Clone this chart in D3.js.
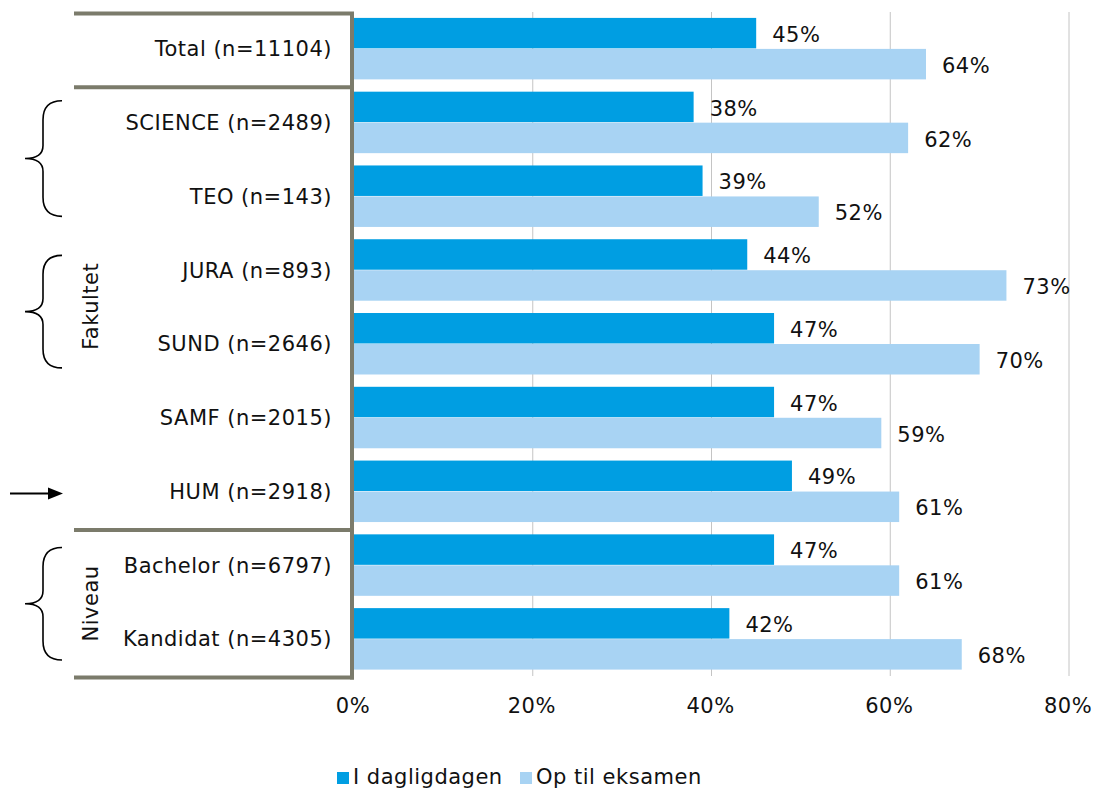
<!DOCTYPE html>
<html>
<head>
    <meta charset="utf-8">
    <script src="https://d3js.org/d3.v7.min.js"></script>
    <style>
        body { margin: 0; background: #fff; }
        text { font-family: "DejaVu Sans", Verdana, sans-serif; fill: #111; letter-spacing: 0.5px; }
    </style>
</head>
<body>
<div id="chart"></div>
<script>
    // data
    var categories = ["Total (n=11104)", "SCIENCE (n=2489)", "TEO (n=143)", "JURA (n=893)", "SUND (n=2646)",
                      "SAMF (n=2015)", "HUM (n=2918)", "Bachelor (n=6797)", "Kandidat (n=4305)"];
    var seriesNames = ["I dagligdagen", "Op til eksamen"];
    var dagligdagen = [45, 38, 39, 44, 47, 47, 49, 47, 42];
    var eksamen = [64, 62, 52, 73, 70, 59, 61, 61, 68];
    var xTicks = [0, 20, 40, 60, 80];

    var colors = ["#009ee2", "#a8d3f3"];
    var fontSize = 21;

    var W = 1096, H = 788;
    var svg = d3.select("#chart").append("svg")
        .attr("width", W).attr("height", H);

    const x = d3.scaleLinear().domain([0, 80]).range([354, 1069]);
    const y = d3.scaleBand().domain(categories).range([12, 676])
        .paddingInner(0.16).paddingOuter(0.08);
    const ySub = d3.scaleBand().domain(seriesNames).range([0, y.bandwidth()]);
    var step = y.step();
    function bandStart(i) { return 12 + i * step; }

    // gridlines
    svg.append("g")
        .selectAll("line")
        .data(xTicks.slice(1))
        .enter().append("line")
        .attr("x1", d => x(d)).attr("x2", d => x(d))
        .attr("y1", 12).attr("y2", 676)
        .attr("stroke", "#c4c4c4").attr("stroke-width", 1);

    // bars
    var rows = categories.map(function(c, i) {
        return { cat: c, values: [
            { key: seriesNames[0], value: dagligdagen[i] },
            { key: seriesNames[1], value: eksamen[i] }
        ] };
    });

    var groups = svg.append("g").selectAll("g")
        .data(rows).enter().append("g")
        .attr("transform", d => "translate(0," + y(d.cat) + ")");

    groups.selectAll("rect")
        .data(d => d.values).enter().append("rect")
        .attr("x", x(0))
        .attr("y", d => ySub(d.key))
        .attr("width", d => x(d.value) - x(0))
        .attr("height", ySub.bandwidth() - 0.5)
        .attr("fill", (d, i) => colors[i]);

    groups.selectAll("text.val")
        .data(d => d.values).enter().append("text")
        .attr("class", "val")
        .attr("x", d => x(d.value) + 16)
        .attr("y", d => ySub(d.key) + ySub.bandwidth() / 2 + 1)
        .attr("dy", "0.35em")
        .style("font-size", fontSize + "px")
        .text(d => d.value + "%");

    // category labels
    svg.append("g").selectAll("text")
        .data(categories).enter().append("text")
        .attr("x", 332)
        .attr("y", d => y(d) + y.bandwidth() / 2)
        .attr("dy", "0.35em")
        .attr("text-anchor", "end")
        .style("font-size", fontSize + "px")
        .text(d => d);

    // x tick labels
    svg.append("g").selectAll("text")
        .data(xTicks).enter().append("text")
        .attr("x", d => x(d) - 1)
        .attr("y", 713)
        .attr("text-anchor", "middle")
        .style("font-size", fontSize + "px")
        .text(d => d + "%");

    // frame around the label area
    var frameColor = "#7b7b6b";
    var frame = svg.append("g").attr("stroke", frameColor).attr("stroke-width", 4);
    [0, 1, 7, 9].forEach(function(i) {
        frame.append("line")
            .attr("x1", 74).attr("x2", 354)
            .attr("y1", bandStart(i) + 1.5).attr("y2", bandStart(i) + 1.5);
    });
    frame.append("line")
        .attr("x1", 352).attr("x2", 352)
        .attr("y1", 12).attr("y2", bandStart(9) + 3.5);

    // curly brackets
    var brackets = [
        { from: 1, to: 2, top: 15, bottom: -17 },
        { from: 3, to: 4, top: 22, bottom: -13 },
        { from: 7, to: 8, top: 19, bottom: -16 }
    ];
    brackets.forEach(function(b) {
        var t = bandStart(b.from) + b.top;
        var bt = bandStart(b.to + 1) + b.bottom;
        var m = (t + bt) / 2;
        var p = d3.path();
        p.moveTo(62, t);
        p.quadraticCurveTo(43, t, 43, t + 19);
        p.lineTo(43, m - 13);
        p.quadraticCurveTo(43, m, 25, m);
        p.quadraticCurveTo(43, m, 43, m + 13);
        p.lineTo(43, bt - 19);
        p.quadraticCurveTo(43, bt, 62, bt);
        svg.append("path").attr("d", p.toString())
            .attr("fill", "none").attr("stroke", "#000").attr("stroke-width", 1.6);
    });

    // group labels
    var groupLabels = [
        { text: "Fakultet", yc: bandStart(3) + 73 },
        { text: "Niveau", yc: bandStart(7) + 75 }
    ];
    svg.append("g").selectAll("text")
        .data(groupLabels).enter().append("text")
        .attr("transform", d => "translate(98," + d.yc + ") rotate(-90)")
        .attr("text-anchor", "middle")
        .style("font-size", fontSize + "px")
        .text(d => d.text);

    // arrow pointing at HUM
    var ay = y("HUM (n=2918)") + y.bandwidth() / 2 + 2;
    svg.append("line")
        .attr("x1", 10).attr("x2", 50).attr("y1", ay).attr("y2", ay)
        .attr("stroke", "#000").attr("stroke-width", 2);
    svg.append("path")
        .attr("d", "M48," + (ay - 6) + " L63," + ay + " L48," + (ay + 6) + " Z")
        .attr("fill", "#000");

    // legend
    var legendX = [337, 520];
    seriesNames.forEach(function(s, i) {
        svg.append("rect")
            .attr("x", legendX[i]).attr("y", 772)
            .attr("width", 12).attr("height", 12)
            .attr("fill", colors[i]);
        svg.append("text")
            .attr("x", legendX[i] + 16).attr("y", 784)
            .style("font-size", fontSize + "px")
            .text(s);
    });
</script>
</body>
</html>
